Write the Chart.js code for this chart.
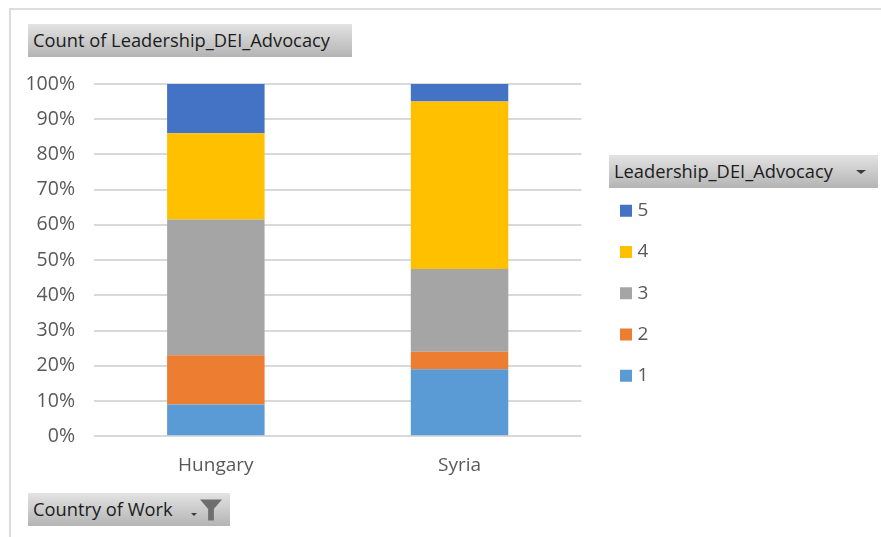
<!DOCTYPE html>
<html>
<head>
<meta charset="utf-8">
<script src="https://cdn.jsdelivr.net/npm/chart.js@4"></script>
<style>
  html, body { margin: 0; padding: 0; background: #fff; }
  #stage { position: relative; width: 881px; height: 537px; overflow: hidden; font-family: "Open Sans", sans-serif; }
  #frame { position: absolute; left: 9px; top: 8px; width: 890px; height: 560px; border: 2px solid #dcdcdc; box-sizing: border-box; }
  canvas { position: absolute; left: 0; top: 0; }
  .field {
    position: absolute; height: 33px; line-height: 31px; box-sizing: border-box; padding-left: 5px;
    background: linear-gradient(#e3e3e3, #b4b4b4); color: #1c1c1c; font-size: 18.3px; white-space: nowrap;
  }
  .arrow { position: absolute; width: 0; height: 0; border-left: 5px solid transparent; border-right: 5px solid transparent; border-top: 4px solid #3a3a3a; }
</style>
</head>
<body>
<div id="stage">
  <div id="frame"></div>
  <canvas id="chart" width="881" height="537"></canvas>
  <div class="field" style="left:28px;top:24px;width:324px">Count of Leadership_DEI_Advocacy</div>
  <div class="field" style="left:609px;top:155px;width:269px">Leadership_DEI_Advocacy<span class="arrow" style="left:247px;top:15px"></span></div>
  <div class="field" style="left:28px;top:493px;width:202px">Country of Work
    <span class="arrow" style="left:163px;top:20px;border-left-width:3px;border-right-width:3px;border-top-width:3px"></span>
    <svg style="position:absolute;left:172px;top:6px" width="22" height="22" viewBox="0 0 23 22"><path d="M0 0H23L14.5 10V22H8.5V10Z" fill="#6e6e6e"/></svg>
  </div>
</div>
<script>
// Share of responses per advocacy rating, in percent of each country's total.
const countries = ['Hungary', 'Syria'];
const rating1 = [9, 19];
const rating2 = [14, 5];
const rating3 = [38.5, 23.5];
const rating4 = [24.5, 47.5];
const rating5 = [14, 5];
const ratingNames = ['1', '2', '3', '4', '5'];
const ratingColors = ['#5B9BD5', '#ED7D31', '#A5A5A5', '#FFC000', '#4472C4'];
const ratingValues = [rating1, rating2, rating3, rating4, rating5];

const axisFont = { family: '"Open Sans", sans-serif', size: 19 };
const valueFont = { family: '"Open Sans", sans-serif', size: 19.5 };

// Places the legend beside the plot, under its field button.
const legendPlacement = {
  id: 'legendPlacement',
  afterLayout(chart) {
    const l = chart.legend;
    l.left = 601.75; l.right = 881; l.top = 179; l.bottom = 530;
  }
};

// Narrow swatch with a thick outline, so the label sits close to the 12px square.
function swatchLabels(chart) {
  return Chart.defaults.plugins.legend.labels.generateLabels(chart).map(item => ({
    ...item, lineWidth: 8, strokeStyle: item.fillStyle
  }));
}

new Chart(document.getElementById('chart'), {
  type: 'bar',
  data: {
    labels: countries,
    datasets: ratingNames.map((name, i) => ({
      label: name,
      data: ratingValues[i],
      backgroundColor: ratingColors[i],
      barPercentage: 0.4,
      categoryPercentage: 1
    }))
  },
  options: {
    responsive: false,
    animation: false,
    layout: { padding: { top: 84, left: 0, right: 243, bottom: 50 } },
    scales: {
      x: {
        stacked: true,
        grid: { display: false },
        border: { display: false },
        ticks: { color: '#595959', font: axisFont, padding: 10, maxRotation: 0 }
      },
      y: {
        stacked: true,
        min: 0,
        max: 100,
        afterFit(scale) { scale.width = 94; },
        grid: { color: '#d9d9d9', lineWidth: 2, drawTicks: false },
        border: { display: false },
        ticks: { stepSize: 10, color: '#595959', font: valueFont, padding: 19, callback: v => v + '%' }
      }
    },
    plugins: {
      title: { display: false },
      tooltip: { enabled: false },
      legend: {
        position: 'right',
        align: 'start',
        reverse: true,
        labels: { boxWidth: 4, boxHeight: 4, padding: 22.25, color: '#595959', font: axisFont, generateLabels: swatchLabels }
      }
    }
  },
  plugins: [legendPlacement]
});
</script>
</body>
</html>
